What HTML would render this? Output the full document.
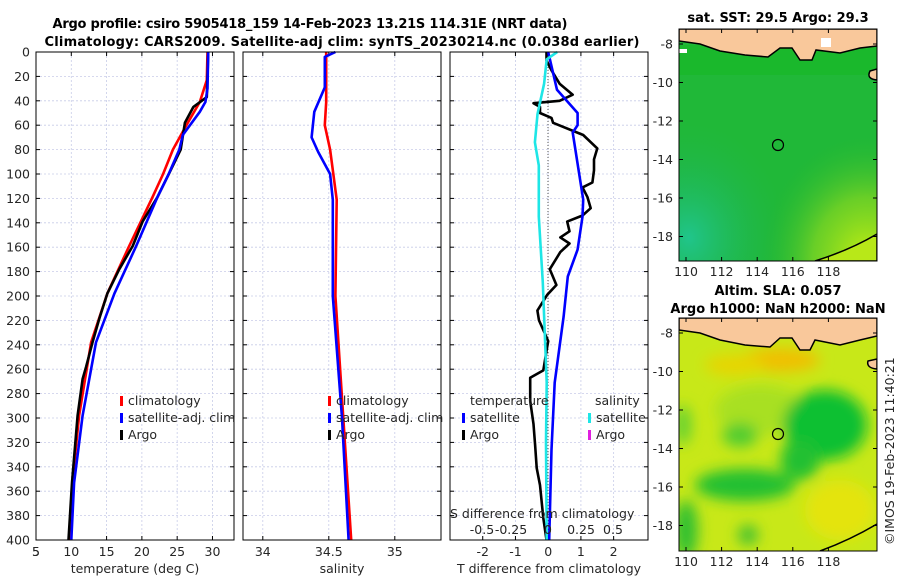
<!DOCTYPE html>
<html><head><meta charset="utf-8"><style>
body{margin:0;background:#fff}
svg{display:block;font-family:"DejaVu Sans","Liberation Sans",sans-serif}
.t{font-size:12.5px;fill:#262626}
.ti{font-size:13px;font-weight:bold;fill:#000}
</style></head><body>
<svg id="fig" width="900" height="580" viewBox="0 0 900 580">
<defs>
<radialGradient id="sstg" cx="0.05" cy="0.9" r="0.5"><stop offset="0" stop-color="#20c8a0" stop-opacity="0.8"/><stop offset="1" stop-color="#1db04a" stop-opacity="0"/></radialGradient>
<radialGradient id="ssty" cx="0.95" cy="1" r="0.55"><stop offset="0" stop-color="#c8f010"/><stop offset="0.5" stop-color="#88d820" stop-opacity="0.7"/><stop offset="1" stop-color="#22b830" stop-opacity="0"/></radialGradient>
<filter id="bl"><feGaussianBlur stdDeviation="7"/></filter>
<clipPath id="c1"><rect x="679" y="29" width="198" height="232"/></clipPath>
<clipPath id="c2"><rect x="679" y="318" width="198" height="233"/></clipPath>
</defs>
<g>
<text class="ti" x="310" y="28" text-anchor="middle" textLength="515">Argo profile: csiro 5905418_159 14-Feb-2023 13.21S 114.31E (NRT data)</text>
<text class="ti" x="342" y="46" text-anchor="middle" textLength="595">Climatology: CARS2009. Satellite-adj clim: synTS_20230214.nc (0.038d earlier)</text>
</g>
<g id="plots"></g>
<g>
<text class="ti" x="778" y="22" text-anchor="middle">sat. SST: 29.5 Argo: 29.3</text>
<g clip-path="url(#c1)">
<rect x="679" y="29" width="198" height="232" fill="#20b838"/>
<rect x="679" y="29" width="198" height="232" fill="url(#sstg)"/>
<rect x="679" y="29" width="198" height="232" fill="url(#ssty)"/>
<rect x="679" y="45" width="198" height="30" fill="#18b828" opacity="0.7"/>
<path d="M679,29 L679,41 L700,44 L720,51 L745,55 L768,57 L780,48 L792,48 L800,60 L812,60 L816,50 L840,53 L860,48 L877,46 L877,29 Z" fill="#f9c89b" stroke="#000" stroke-width="1.5"/>
<rect x="821" y="38" width="10" height="9" fill="#fff"/>
<rect x="679" y="49" width="8" height="4" fill="#fff"/>
<path d="M877,69 L870,71 Q866,79 877,80 Z" fill="#f9c89b" stroke="#000" stroke-width="1.5"/>
<path d="M815,261 Q850,250 877,234 L877,261 Z" fill="#b8e818" stroke="#000" stroke-width="1.5"/>
<circle cx="778" cy="145" r="5.5" fill="none" stroke="#000" stroke-width="1.2"/>
</g>
<rect x="679" y="29" width="198" height="232" fill="none" stroke="#000"/>
</g>
<g>
<text class="ti" x="778" y="295" text-anchor="middle">Altim. SLA: 0.057</text>
<text class="ti" x="778" y="313" text-anchor="middle">Argo h1000: NaN h2000: NaN</text>
<g clip-path="url(#c2)">
<rect x="679" y="318" width="198" height="233" fill="#c8e818"/>
<g filter="url(#bl)">
<ellipse cx="780" cy="360" rx="40" ry="12" fill="#f0c000"/>
<ellipse cx="735" cy="365" rx="30" ry="10" fill="#e8d400"/>
<ellipse cx="760" cy="410" rx="45" ry="25" fill="#a8e020"/>
<ellipse cx="825" cy="425" rx="42" ry="35" fill="#10c030"/>
<ellipse cx="800" cy="460" rx="20" ry="20" fill="#20c030"/>
<ellipse cx="745" cy="485" rx="50" ry="16" fill="#22c030"/>
<ellipse cx="740" cy="435" rx="18" ry="12" fill="#50cc30"/>
<ellipse cx="686" cy="530" rx="12" ry="30" fill="#30c030"/>
<ellipse cx="683" cy="425" rx="8" ry="20" fill="#60d030"/>
<ellipse cx="748" cy="535" rx="10" ry="10" fill="#40c030"/>
<ellipse cx="840" cy="510" rx="35" ry="30" fill="#e4e410"/>
</g>
<path d="M679,318 L679,330 L700,333 L720,340 L745,345 L770,347 L780,338 L792,338 L800,350 L810,350 L815,340 L840,345 L860,340 L877,336 L877,318 Z" fill="#f9c89b" stroke="#000" stroke-width="1.5"/>
<path d="M877,359 L868,361 Q866,368 877,369 Z" fill="#f9c89b" stroke="#000" stroke-width="1.5"/>
<path d="M820,551 Q850,540 877,524" fill="none" stroke="#000" stroke-width="1.5"/>
<circle cx="778" cy="434" r="5.5" fill="none" stroke="#000" stroke-width="1.2"/>
</g>
<rect x="679" y="318" width="198" height="233" fill="none" stroke="#000"/>
</g>
<g id="mapaxes"></g>
<text class="t" transform="translate(894,545) rotate(-90)" font-size="12">©IMOS 19-Feb-2023 11:40:21</text>
</svg>
<script>
const depthTicks=[0,20,40,60,80,100,120,140,160,180,200,220,240,260,280,300,320,340,360,380,400];
const tTicks=[5,10,15,20,25,30];
const sTicks=[34,34.5,35];
const dTicks=[-2,-1,0,1,2];
const tClimD=[0,23,41,60,80,100,119,159,198,238,298,350,400];
const tClim=[29.3,29.2,28.2,26.3,24.4,23,21.5,18.2,15.1,12.8,11.1,10.2,9.7];
const tSatD=[0,30,41,49,68,80,100,119,159,198,238,298,353,400];
const tSat=[29.4,29.3,29,28.2,25.8,25.3,23.8,22.2,19.2,16.1,13.5,11.6,10.4,10];
const tArgoD=[0,20,37,45,58,80,99,119,139,159,178,198,218,238,258,268,298,353,400];
const tArgo=[29.4,29.3,29.2,27.3,26.1,25.5,23.9,22.2,20.1,18.7,16.8,15.1,14,13,12.1,11.6,10.9,10.1,9.6];
const sClimD=[0,41,60,80,121,200,300,400];
const sClim=[34.48,34.48,34.47,34.51,34.56,34.55,34.61,34.67];
const sSatD=[0,4,29,49,70,82,100,121,200,300,400];
const sSat=[34.55,34.47,34.47,34.39,34.37,34.42,34.51,34.53,34.53,34.6,34.65];
const dTSatD=[0,31,50,60,66,121,135,162,184,217,271,326,400];
const dTSat=[0,0.27,0.9,0.9,0.75,1.07,1.05,0.9,0.6,0.47,0.2,0.1,0.03];
const dTArgoD=[0,7,15,26,35,40,42,45,50,54,58,68,79,88,97,107,111,119,128,134,139,147,152,157,164,178,191,199,212,220,226,237,245,261,267,286,305,322,341,355,382,400];
const dTArgo=[-0.05,-0.05,0.1,0.35,0.75,0.35,-0.45,-0.25,-0.25,0.1,0.15,1.07,1.5,1.4,1.4,1.35,1.05,1.2,1.3,1.05,0.58,0.65,0.37,0.65,0.37,0.05,0.25,-0.03,-0.33,-0.28,-0.18,0,-0.05,-0.15,-0.55,-0.55,-0.45,-0.4,-0.35,-0.25,-0.15,-0.05];
const dSSatD=[0,6,26,51,74,93,135,189,271,320,400];
const dSSat=[0.07,-0.01,-0.03,-0.08,-0.1,-0.07,-0.07,-0.04,-0.01,-0.015,-0.01];
const lonTicks=[110,112,114,116,118];
const latTicks=[-8,-10,-12,-14,-16,-18];
const NS="http://www.w3.org/2000/svg";
const G=document.getElementById('plots');
function el(t,a,p){const e=document.createElementNS(NS,t);for(const k in a)e.setAttribute(k,a[k]);(p||G).appendChild(e);return e;}
const Y=d=>52+d*(488/400);
const panels=[
 {x0:36,lo:5,hi:33.05,ticks:tTicks,label:'temperature (deg C)',name:'temperature'},
 {x0:243,lo:33.85,hi:35.35,ticks:sTicks,label:'salinity',name:'salinity'},
 {x0:450,lo:-3,hi:3.05,ticks:dTicks,label:'T difference from climatology',name:'difference'}];
const W=198,H=488;
panels.forEach((p,i)=>{
 p.X=v=>p.x0+(v-p.lo)/(p.hi-p.lo)*W;
 const g=el('g',{});
 
 
 el('rect',{x:p.x0,y:52,width:W,height:H,fill:'#fff'},g);
 depthTicks.forEach(d=>{el('line',{x1:p.x0,x2:p.x0+W,y1:Y(d),y2:Y(d),stroke:'#c8cce8','stroke-width':0.8,'stroke-dasharray':'2,2'},g);
  el('line',{x1:p.x0,x2:p.x0+4,y1:Y(d),y2:Y(d),stroke:'#000'},g);el('line',{x1:p.x0+W-4,x2:p.x0+W,y1:Y(d),y2:Y(d),stroke:'#000'},g);
  if(i==0){const t=el('text',{x:30,y:Y(d)+4.5,'text-anchor':'end',class:'t'},g);t.textContent=d;}});
 p.ticks.forEach(v=>{const x=p.X(v);el('line',{x1:x,x2:x,y1:52,y2:540,stroke:'#c8cce8','stroke-width':0.8,'stroke-dasharray':'2,2'},g);
  el('line',{x1:x,x2:x,y1:540,y2:536,stroke:'#000'},g);el('line',{x1:x,x2:x,y1:52,y2:56,stroke:'#000'},g);
  const t=el('text',{x:x,y:556,'text-anchor':'middle',class:'t'},g);t.textContent=v;});
 if(i==0){const t=el('text',{x:36,y:556,'text-anchor':'middle',class:'t'},g);t.textContent='5';}
 const lb=el('text',{x:p.x0+W/2,y:573,'text-anchor':'middle',class:'t'},g);lb.textContent=p.label;
 
 p.g=g;
});
function line(p,ds,vs,col,name,X){X=X||p.X;
 const d=ds.map((dd,i)=>(i?'L':'M')+X(vs[i]).toFixed(1)+','+Y(dd).toFixed(1)).join('');
 const e=el('path',{d:d,fill:'none',stroke:col,'stroke-width':2.6,'stroke-linejoin':'round'},p.g);
 }
const P=panels;
line(P[0],tClimD,tClim,'#f00','temp-climatology-line');
line(P[0],tArgoD,tArgo,'#000','temp-argo-line');
line(P[0],tSatD,tSat,'#00f','temp-satellite-line');
line(P[1],sClimD,sClim,'#f00','sal-climatology-line');
line(P[1],sSatD,sSat,'#00f','sal-satellite-line');
const XS=v=>548+v*131;
el('line',{x1:548,x2:548,y1:52,y2:540,stroke:'#555','stroke-dasharray':'1,2'},P[2].g);
line(P[2],dTArgoD,dTArgo,'#000','tdiff-argo-line');
line(P[2],dTSatD,dTSat,'#00f','tdiff-satellite-line');
line(P[2],dSSatD,dSSat,'#1ee6e6','sdiff-satellite-line',XS);
panels.forEach(p=>el('rect',{x:p.x0,y:52,width:W,height:H,fill:'none',stroke:'#000'},p.g));
function leg(g,x,y,col,txt,name){if(col)el('rect',{x:x,y:y-9,width:3,height:10,fill:col},g);
 const t=el('text',{x:x+(col?8:0),y:y,class:'t'},g);t.textContent=txt;
 }
leg(P[0].g,120,405,'#f00','climatology','legend-climatology');
leg(P[0].g,120,422,'#00f','satellite-adj. clim','legend-satellite-adj');
leg(P[0].g,120,439,'#000','Argo','legend-argo');
leg(P[1].g,328,405,'#f00','climatology','legend-sal-climatology');
leg(P[1].g,328,422,'#00f','satellite-adj. clim','legend-sal-satellite');
leg(P[1].g,328,439,'#000','Argo','legend-sal-argo');
leg(P[2].g,470,405,null,'temperature','legend-temperature-header');
leg(P[2].g,462,422,'#00f','satellite','legend-t-satellite');
leg(P[2].g,462,439,'#000','Argo','legend-t-argo');
leg(P[2].g,595,405,null,'salinity','legend-salinity-header');
leg(P[2].g,588,422,'#1ee6e6','satellite','legend-s-satellite');
leg(P[2].g,588,439,'#e020e0','Argo','legend-s-argo');
const st=el('text',{x:450,y:518,class:'t'},P[2].g);st.textContent='S difference from climatology';

[['-0.5',482],['-0.25',511],['0',548],['0.25',581],['0.5',613]].forEach(a=>{const t=el('text',{x:a[1],y:534,'text-anchor':'middle',class:'t'},P[2].g);t.textContent=a[0];});
const MA=document.getElementById('mapaxes');
[[29,261],[318,551]].forEach(([top,bot],k)=>{
 const LX=v=>686+(v-110)*17.8, LY=v=>top+15+(-8-v)*19.25;
 lonTicks.forEach(v=>{const x=LX(v);el('line',{x1:x,x2:x,y1:bot,y2:bot-4,stroke:'#000'},MA);el('line',{x1:x,x2:x,y1:top,y2:top+4,stroke:'#000'},MA);
  const t=el('text',{x:x,y:bot+15,'text-anchor':'middle',class:'t'},MA);t.textContent=v;});
 latTicks.forEach(v=>{const y=LY(v);el('line',{x1:679,x2:683,y1:y,y2:y,stroke:'#000'},MA);el('line',{x1:873,x2:877,y1:y,y2:y,stroke:'#000'},MA);
  const t=el('text',{x:673,y:y+4.5,'text-anchor':'end',class:'t'},MA);t.textContent=v;});
});
</script>
</body></html>
